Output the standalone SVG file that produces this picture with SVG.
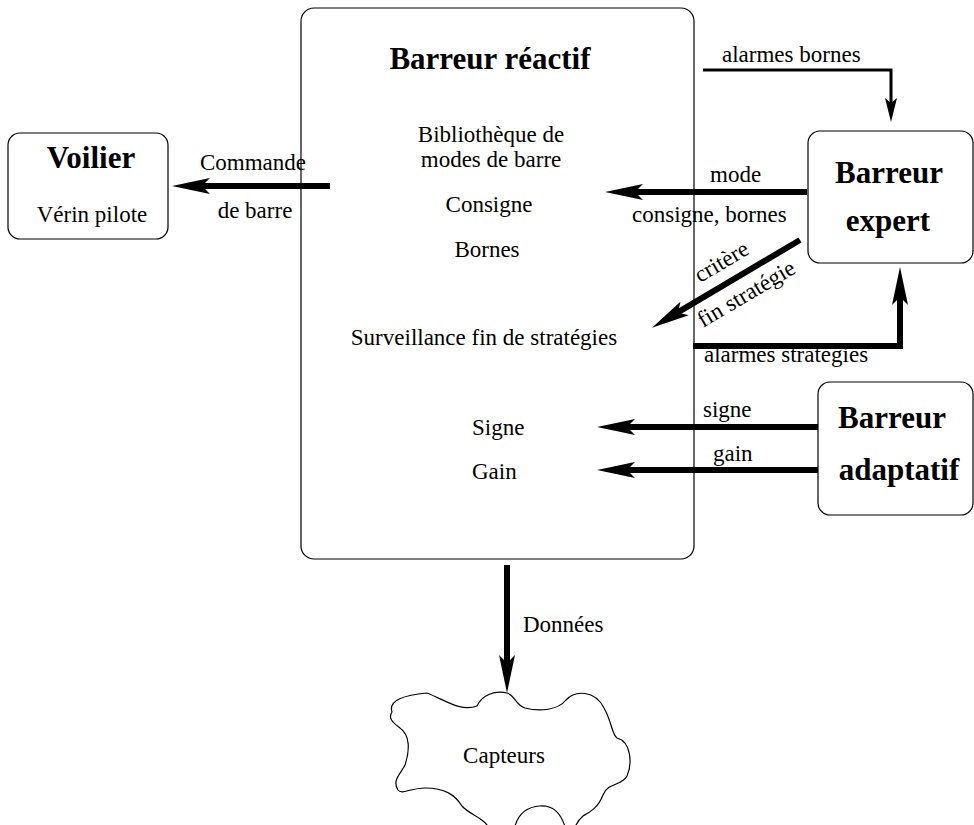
<svg xmlns="http://www.w3.org/2000/svg" width="974" height="825" viewBox="0 0 974 825">
<style>
text{font-family:"Liberation Serif","Times New Roman",serif;fill:#000}
.r{font-size:23px}
.b{font-size:31px;font-weight:bold}
.m{text-anchor:middle}
.box{fill:#fff;stroke:#000;stroke-width:1.2}
.thick{fill:none;stroke:#000;stroke-width:6;marker-end:url(#ah)}
.thin{fill:none;stroke:#000;stroke-width:3;marker-end:url(#ahs)}
</style>
<defs>
<marker id="ah" markerUnits="userSpaceOnUse" markerWidth="40" markerHeight="20" refX="8" refY="10" orient="auto">
<path d="M38,10 L0,2 L8,10 L0,18 Z" fill="#000"/>
</marker>
<marker id="ahs" markerUnits="userSpaceOnUse" markerWidth="26" markerHeight="12" refX="5" refY="6" orient="auto">
<path d="M24,6 L0,0 L5,6 L0,12 Z" fill="#000"/>
</marker>
</defs>
<g id="reactif">
<rect class="box" x="301" y="8" width="393" height="551" rx="13" stroke="#444"/>
<text class="b m" x="490" y="69">Barreur réactif</text>
<text class="r m" x="491" y="142">Bibliothèque de</text>
<text class="r m" x="491" y="167">modes de barre</text>
<text class="r m" x="489" y="212">Consigne</text>
<text class="r m" x="487" y="257">Bornes</text>
<text class="r m" x="484" y="345">Surveillance fin de stratégies</text>
<text class="r" x="472" y="435">Signe</text>
<text class="r" x="472" y="479">Gain</text>
</g>
<g id="voilier">
<rect class="box" x="8" y="133" width="160" height="106" rx="12"/>
<text class="b m" x="91" y="168">Voilier</text>
<text class="r m" x="92" y="222">Vérin pilote</text>
</g>
<g id="expert">
<rect class="box" x="808" y="131" width="165" height="132" rx="12"/>
<text class="b m" x="889" y="183">Barreur</text>
<text class="b m" x="888" y="231">expert</text>
</g>
<g id="adaptatif">
<rect class="box" x="818" y="382" width="155" height="133" rx="12"/>
<text class="b m" x="892" y="428">Barreur</text>
<text class="b m" x="899" y="480">adaptatif</text>
</g>
<g id="capteurs">
<path fill="#fff" stroke="#000" stroke-width="1.2" d="M392,712 C388,700 405,695 427,693 C445,700 460,712 477,706 C482,695 495,690 507,693 C515,695 515,705 525,708 C540,712 558,710 566,700 C575,690 595,690 604,708 C612,722 612,735 617,738 C632,742 632,765 627,776 C622,786 608,782 603,795 C598,808 590,812 583,816 C578,820 576,824 574,830 L566,830 C562,815 555,805 540,806 C525,807 517,815 514,830 L490,830 C485,818 470,815 462,806 C455,795 445,788 425,788 C410,788 402,795 398,790 C392,780 400,775 405,765 C410,750 410,735 400,728 C392,722 388,718 392,712 Z"/>
<text class="r m" x="504" y="763">Capteurs</text>
</g>
<g id="connectors">
<path class="thick" d="M330,186 H202"/>
<path class="thick" d="M807,192 H635"/>
<path class="thick" d="M800,240 L677.8,312.4"/>
<path class="thick" d="M693,346 H900 V297"/>
<path class="thick" d="M818,427 H627"/>
<path class="thick" d="M818,470 H627"/>
<path class="thick" d="M507,565 V663"/>
<path class="thin" d="M703,70 H891 V103"/>
<text class="r" x="200" y="170">Commande</text>
<text class="r m" x="255" y="218">de barre</text>
<text class="r" x="722" y="62">alarmes bornes</text>
<text class="r" x="710" y="182">mode</text>
<text class="r" x="632" y="222">consigne, bornes</text>
<text class="r" transform="translate(700,283) rotate(-30.6)">critère</text>
<text class="r" transform="translate(703,328) rotate(-30.6)">fin stratégie</text>
<text class="r" x="704" y="362">alarmes stratégies</text>
<text class="r" x="703" y="417">signe</text>
<text class="r" x="713" y="461">gain</text>
<text class="r" x="523" y="632">Données</text>
</g>
</svg>
